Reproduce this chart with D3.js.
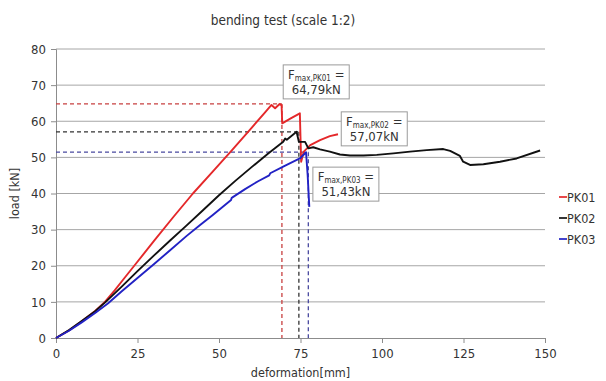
<!DOCTYPE html>
<html>
<head>
<meta charset="utf-8">
<script src="https://cdn.jsdelivr.net/npm/d3@7"></script>
<style>
  body { margin: 0; background: #fff; }
  svg { font-family: 'DejaVu Sans Condensed', 'DejaVu Sans', sans-serif; }
</style>
</head>
<body>
<div id="chart"></div>
<script>
// deformation [mm], load [kN]
const pk01 = [[0,0],[4,2.1],[8,4.7],[12,7.5],[15,10],[18,13.2],[21,16.6],[24,20],[30,26.8],[36,33.5],[42,40],
  [48,46],[54,52],[60,58.2],[64,62.3],[66.1,64.5],[67.2,63.6],[68.6,64.79],[69.2,64.4],[69.4,59.4],[72,60.8],
  [74.8,62.2],[75.2,48.8],[76,51.6],[78,53.4],[81,54.8],[84,55.9],[86.5,56.4]];
const pk02 = [[0,0],[4,2.2],[8,4.8],[12,7.4],[15,9.8],[20,14.1],[25,18.5],[30,22.8],[35,27],[40,31.1],[45,35.3],
  [50,39.5],[55,43.5],[60,47.3],[65,51],[69.7,54.3],[70.3,55.2],[70.8,54.9],[73.8,57.07],[74.5,54.3],[76.4,54.3],
  [77.4,52.5],[78.9,52.8],[81,52.2],[84,51.6],[87.1,50.8],[90.2,50.5],[94.3,50.5],[98.4,50.7],[103.5,51.1],
  [108.6,51.6],[113.7,52.0],[118.8,52.3],[120.9,51.8],[123.9,50.4],[124.9,48.8],[127,47.9],[131.1,48.1],
  [136.2,48.8],[141.3,49.7],[148.5,51.9]];
const pk03 = [[0,0],[4,2],[8,4.4],[12,6.9],[16,9.6],[20,12.8],[25,16.6],[30,20.4],[35,24.3],[40,28.2],[44.2,31.3],
  [48,34],[53.7,38.2],[53.9,38.8],[58,41.2],[62,43.4],[65.4,45.0],[65.7,45.6],[70,47.6],[74.8,49.7],[76.7,51.43],
  [77.2,45],[77.7,36.3]];

const seriesNames = ["PK01", "PK02", "PK03"];
const seriesColors = ["#e4282a", "#111111", "#2222c4"];
const dashColors = ["#c84040", "#333333", "#4a4aa0"];
// F max and the deformation at which it was marked
const fmax = [64.79, 57.07, 51.43];
const fmaxAt = [69.3, 74.5, 77.4];
const fmaxLabels = ["64,79kN", "57,07kN", "51,43kN"];
// annotation box top-left corners, in data units
const boxAnchor = [[69.7, 75.6], [87.5, 62.6], [78.8, 47.3]];

const xTicks = [0, 25, 50, 75, 100, 125, 150];
const yTicks = [0, 10, 20, 30, 40, 50, 60, 70, 80];

const W = 606, H = 381;
const margin = { top: 49, right: 61, bottom: 43, left: 56 };
const width = W - margin.left - margin.right;
const height = H - margin.top - margin.bottom;

const svg = d3.select("#chart").append("svg")
  .attr("width", W).attr("height", H);

const g = svg.append("g")
  .attr("transform", `translate(${margin.left},${margin.top})`);

const x = d3.scaleLinear().domain([0, 150]).range([0, width]);
const y = d3.scaleLinear().domain([0, 80]).range([height, 0]);

// title
svg.append("text")
  .attr("x", 283).attr("y", 25)
  .attr("text-anchor", "middle")
  .attr("font-size", 13.5)
  .attr("fill", "#333")
  .text("bending test (scale 1:2)");

// horizontal gridlines
g.selectAll(".grid")
  .data(yTicks.filter(d => d > 0))
  .enter().append("line")
  .attr("x1", 0).attr("x2", width)
  .attr("y1", d => y(d)).attr("y2", d => y(d))
  .attr("stroke", "#a6a6a6").attr("stroke-width", 1);

// axes
const yAxis = g.append("g")
  .call(d3.axisLeft(y).tickValues(yTicks).tickSize(5).tickPadding(5));
const xAxis = g.append("g")
  .attr("transform", `translate(0,${height})`)
  .call(d3.axisBottom(x).tickValues(xTicks).tickSize(5).tickPadding(6));

[yAxis, xAxis].forEach(a => {
  a.select(".domain").attr("stroke", "#8c8c8c");
  a.selectAll(".tick line").attr("stroke", "#8c8c8c");
  a.selectAll(".tick text").attr("fill", "#333").attr("font-size", 13)
    .attr("font-family", "'DejaVu Sans Condensed', sans-serif");
});

// axis titles
svg.append("text")
  .attr("transform", `translate(19,${margin.top + y(40)}) rotate(-90)`)
  .attr("text-anchor", "middle")
  .attr("font-size", 12.5)
  .attr("fill", "#333")
  .text("load [kN]");

svg.append("text")
  .attr("x", margin.left + x(75)).attr("y", 377)
  .attr("text-anchor", "middle")
  .attr("font-size", 12.5)
  .attr("fill", "#333")
  .text("deformation[mm]");

// dashed guides at F max
fmax.forEach((v, i) => {
  g.append("line")
    .attr("x1", 0).attr("x2", x(fmaxAt[i]))
    .attr("y1", y(v)).attr("y2", y(v))
    .attr("stroke", dashColors[i]).attr("stroke-width", 1.3)
    .attr("stroke-dasharray", "4 3");
  g.append("line")
    .attr("x1", x(fmaxAt[i])).attr("x2", x(fmaxAt[i]))
    .attr("y1", y(v)).attr("y2", y(0))
    .attr("stroke", dashColors[i]).attr("stroke-width", 1.3)
    .attr("stroke-dasharray", "4 3");
});

// curves
const line = d3.line().x(d => x(d[0])).y(d => y(d[1]));
[pk01, pk02, pk03].forEach((s, i) => {
  g.append("path")
    .datum(s)
    .attr("d", line)
    .attr("fill", "none")
    .attr("stroke", seriesColors[i])
    .attr("stroke-width", 1.9)
    .attr("stroke-linejoin", "round");
});

// annotation boxes
const boxW = 66, boxH = 34;
boxAnchor.forEach((a, i) => {
  const bx = x(a[0]), by = y(a[1]);
  const b = g.append("g").attr("transform", `translate(${bx},${by})`);
  b.append("rect")
    .attr("width", boxW).attr("height", boxH)
    .attr("fill", "#fff").attr("stroke", "#9a9a9a").attr("stroke-width", 1);
  const t = b.append("text")
    .attr("x", boxW / 2).attr("y", 14)
    .attr("text-anchor", "middle")
    .attr("fill", "#333")
    .attr("font-size", 13);
  t.append("tspan").text("F");
  t.append("tspan").attr("font-size", 8).attr("dy", 2).text("max," + seriesNames[i]);
  t.append("tspan").attr("dy", -2).text(" =");
  b.append("text")
    .attr("x", boxW / 2).attr("y", 29)
    .attr("text-anchor", "middle")
    .attr("fill", "#333")
    .attr("font-size", 13)
    .text(fmaxLabels[i]);
});

// legend
const legend = svg.append("g").attr("transform", "translate(559,197)");
const items = legend.selectAll(".item")
  .data(seriesNames)
  .enter().append("g")
  .attr("transform", (d, i) => `translate(0,${i * 21})`);
items.append("line")
  .attr("x1", 0).attr("x2", 8)
  .attr("y1", 0).attr("y2", 0)
  .attr("stroke", (d, i) => seriesColors[i])
  .attr("stroke-width", 1.7);
items.append("text")
  .attr("x", 8).attr("y", 4.5)
  .attr("font-size", 12.5)
  .attr("fill", "#333")
  .text(d => d);
</script>
</body>
</html>
